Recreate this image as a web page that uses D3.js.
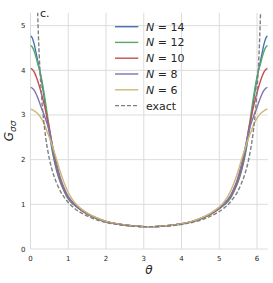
<!DOCTYPE html>
<html><head><meta charset="utf-8">
<script src="https://cdn.jsdelivr.net/npm/d3@7"></script>
<style>body{margin:0;background:#fff}svg{display:block}text{font-family:"DejaVu Sans",sans-serif;fill:#262626}</style>
</head><body><svg id="c" width="273" height="283"></svg>
<script>
const theta = [0,0.05,0.1,0.15,0.2,0.25,0.3,0.35,0.4,0.45,0.5,0.6,0.7,0.8,0.9,1.0,1.15,1.3,1.5,1.75,2.0,2.3,2.6,2.9,3.1416,
  3.383,3.683,3.983,4.283,4.533,4.783,4.983,5.133,5.283,5.383,5.483,5.583,5.683,5.783,5.833,5.883,5.933,5.983,6.033,6.083,6.133,6.183,6.233,6.283];
const gN14 = [4.77,4.72,4.58,4.38,4.18,3.98,3.73,3.46,3.16,2.87,2.59,2.09,1.73,1.47,1.28,1.12,0.99,0.89,0.78,0.68,0.61,0.56,0.525,0.505,0.50,
  0.505,0.525,0.56,0.61,0.68,0.78,0.89,0.99,1.12,1.28,1.47,1.73,2.09,2.59,2.87,3.16,3.46,3.73,3.98,4.18,4.38,4.58,4.72,4.77];
const gN12 = [4.56,4.52,4.42,4.28,4.12,3.97,3.78,3.54,3.27,2.98,2.70,2.17,1.78,1.50,1.30,1.14,1.00,0.90,0.785,0.685,0.612,0.56,0.525,0.505,0.50,
  0.505,0.525,0.56,0.612,0.685,0.785,0.90,1.00,1.14,1.30,1.50,1.78,2.17,2.70,2.98,3.27,3.54,3.78,3.97,4.12,4.28,4.42,4.52,4.56];
const gN10 = [4.04,4.02,3.96,3.86,3.74,3.60,3.45,3.28,3.10,2.90,2.70,2.22,1.82,1.53,1.32,1.16,1.01,0.905,0.79,0.69,0.615,0.56,0.525,0.505,0.50,
  0.505,0.525,0.56,0.615,0.69,0.79,0.905,1.01,1.16,1.32,1.53,1.82,2.22,2.70,2.90,3.10,3.28,3.45,3.60,3.74,3.86,3.96,4.02,4.04];
const gN8 = [3.62,3.60,3.55,3.47,3.37,3.25,3.13,3.03,2.91,2.78,2.63,2.25,1.88,1.57,1.35,1.18,1.02,0.915,0.80,0.695,0.618,0.562,0.526,0.506,0.50,
  0.506,0.526,0.562,0.618,0.695,0.80,0.915,1.02,1.18,1.35,1.57,1.88,2.25,2.63,2.78,2.91,3.03,3.13,3.25,3.37,3.47,3.55,3.60,3.62];
const gN6 = [3.13,3.12,3.09,3.06,3.02,2.97,2.90,2.82,2.72,2.61,2.50,2.25,1.98,1.70,1.46,1.27,1.06,0.93,0.81,0.70,0.62,0.563,0.527,0.506,0.50,
  0.506,0.527,0.563,0.62,0.70,0.81,0.93,1.06,1.27,1.46,1.70,1.98,2.25,2.50,2.61,2.72,2.82,2.90,2.97,3.02,3.06,3.09,3.12,3.13];
const thetaExact = [0.189,0.2,0.21,0.22,0.23,0.25,0.27,0.3,0.35,0.4,0.45,0.5,0.6,0.7,0.8,0.9,1.0,1.15,1.3,1.5,1.75,2.0,2.3,2.6,2.9,3.1416,
  3.383,3.683,3.983,4.283,4.533,4.783,4.983,5.133,5.283,5.383,5.483,5.583,5.683,5.783,5.833,5.883,5.933,5.983,6.013,6.033,6.053,6.063,6.073,6.083,6.094];
const gExact = [5.30,5.01,4.77,4.55,4.36,4.01,3.72,3.34,2.87,2.51,2.24,2.02,1.69,1.46,1.28,1.15,1.04,0.92,0.83,0.74,0.65,0.594,0.548,0.519,0.504,0.50,
  0.504,0.519,0.548,0.594,0.65,0.74,0.83,0.92,1.04,1.15,1.28,1.46,1.69,2.02,2.24,2.51,2.87,3.34,3.72,4.01,4.36,4.55,4.77,5.01,5.30];
const labels = ["N14","N12","N10","N8","N6"];
const nValues = ["14","12","10","8","6"];
const colors = ["#4c72b0","#55a868","#c44e52","#8172b2","#ccb974"];
const xTicks = [0,1,2,3,4,5,6];
const yTicks = [0,1,2,3,4,5];

const series = [gN14,gN12,gN10,gN8,gN6];
const svg = d3.select("#c");
const x = d3.scaleLinear().domain([0, 2*Math.PI]).range([30.5, 267.7]);
const y = d3.scaleLinear().domain([0, 5.29]).range([249, 12.7]);

// grid
const g = svg.append("g");
g.selectAll(".vg").data(xTicks).join("line")
  .attr("x1", d=>x(d)).attr("x2", d=>x(d)).attr("y1", y(0)).attr("y2", y(5.29))
  .attr("stroke", "#dcdcdc").attr("stroke-width", 1);
g.selectAll(".hg").data(yTicks).join("line")
  .attr("y1", d=>y(d)).attr("y2", d=>y(d)).attr("x1", x(0)).attr("x2", x(2*Math.PI))
  .attr("stroke", "#dcdcdc").attr("stroke-width", 1);

// tick labels
svg.selectAll(".xt").data(xTicks).join("text")
  .attr("x", d=>x(d)).attr("y", 261).attr("text-anchor","middle")
  .attr("font-size", 7).text(d=>d);
svg.selectAll(".yt").data(yTicks).join("text")
  .attr("x", 25.5).attr("y", d=>y(d)+2.5).attr("text-anchor","end")
  .attr("font-size", 7).text(d=>d);

// clip
svg.append("clipPath").attr("id","clip").append("rect")
  .attr("x", x(0)).attr("y", y(5.29)).attr("width", x(2*Math.PI)-x(0)).attr("height", y(0)-y(5.29));
const plot = svg.append("g").attr("clip-path","url(#clip)");

const line = d3.line().curve(d3.curveMonotoneX);
series.forEach((s,i)=>{
  plot.append("path").datum(theta.map((t,j)=>[x(t), y(s[j])]))
    .attr("d", line).attr("fill","none").attr("stroke", colors[i]).attr("stroke-width", 1.4);
});
plot.append("path").datum(thetaExact.map((t,j)=>[x(t), y(gExact[j])]))
  .attr("d", line).attr("fill","none").attr("stroke", "#7f7f7f").attr("stroke-width", 1.4)
  .attr("stroke-dasharray", "4,2");

// legend
const lg = svg.append("g");
const rowY = [26.7,42.4,58.2,74,89.8,105.6];
nValues.forEach((n,i)=>{
  lg.append("line").attr("x1",115).attr("x2",138.3).attr("y1",rowY[i]).attr("y2",rowY[i])
    .attr("stroke", colors[i]).attr("stroke-width",1.4);
  const t = lg.append("text").attr("x",146).attr("y",rowY[i]+4).attr("font-size",11);
  t.append("tspan").attr("font-style","italic").text("N");
  t.append("tspan").text(" = " + n);
});
lg.append("line").attr("x1",115).attr("x2",138.3).attr("y1",rowY[5]).attr("y2",rowY[5])
  .attr("stroke","#7f7f7f").attr("stroke-width",1.4).attr("stroke-dasharray","4,2");
lg.append("text").attr("x",146).attr("y",rowY[5]+4).attr("font-size",11).text("exact");

// axis labels
svg.append("text").attr("x", 149).attr("y", 274).attr("text-anchor","middle")
  .attr("font-size", 12).attr("font-style","italic").text("θ");
const yl = svg.append("text").attr("transform","translate(13,131) rotate(-90)")
  .attr("text-anchor","middle").attr("font-size",12);
yl.append("tspan").attr("font-style","italic").text("G");
yl.append("tspan").attr("font-style","italic").attr("font-size",9).attr("dy",3).text("σσ");

svg.append("text").attr("x", 40).attr("y", 17).attr("font-size", 11).text("c.");
</script></body></html>
